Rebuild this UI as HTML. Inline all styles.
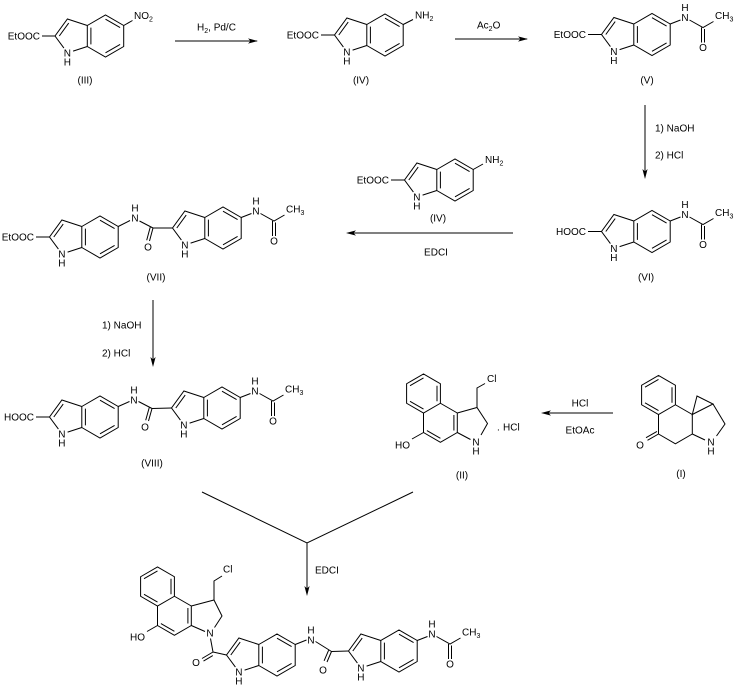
<!DOCTYPE html>
<html><head><meta charset="utf-8">
<style>
html,body{margin:0;padding:0;background:#fff;}
svg{display:block;}
text{font-family:"Liberation Sans",Arial,sans-serif;font-size:10px;fill:#000;}
.m{text-anchor:middle}
.e{text-anchor:end}
</style></head><body>
<svg width="741" height="697" viewBox="0 0 741 697" xmlns="http://www.w3.org/2000/svg">
<defs>
<path id="ind" fill="none" stroke="#000" stroke-width="1" d="M-18.2,-10.5L0,-21L18.2,-10.5L18.2,10.5L0,21L-18.2,10.5Z M-18.2,-10.5L-38.1,-17L-50.5,0L-41.6,12.1 M-18.2,10.5L-32.4,15.1 M-14.6,-8.4L-14.6,8.4 M0,-16.8L14.6,-8.4 M14.6,8.4L0,16.8 M-46.2,0L-36.8,-12.9"/>
<path id="ac" fill="none" stroke="#000" stroke-width="1" d="M18.2,-10.5L28.5,-14.5 M37.5,-14.5L51,-7L61.5,-13 M49.5,-7L49.5,8 M52.5,-5.5L52.5,8"/>
<path id="nap" fill="none" stroke="#000" stroke-width="1" d="M-16.9,-9.75L0,-19.5L16.9,-9.75L16.9,9.75L0,19.5L-16.9,9.75Z M16.9,9.75L33.8,19.5L33.8,39L16.9,48.75L0,39L0,19.5 M-13.5,-7.8L0,-15.6 M13.5,-7.8L13.5,7.8 M-13.5,7.8L0,15.6"/>
<path id="napd" fill="none" stroke="#000" stroke-width="1" d="M30.4,21.45L30.4,37.05 M3.4,37.05L16.9,44.85"/>
<path id="arr" fill="#000" stroke="none" d="M0,0L-10,-2.6L-7.5,0L-10,2.6Z"/>
</defs>

<!-- ===== (III) ===== -->
<g transform="translate(105.5,36)"><use href="#ind"/><text class="m" x="-38.1" y="20.5">N</text><text class="m" x="-38.1" y="29.5">H</text></g>
<text class="e" x="40" y="39.5">EtOOC</text>
<path fill="none" stroke="#000" d="M42,36L55,36 M123.7,25.5L132.5,20.5"/>
<text x="134" y="19">NO<tspan font-size="7" dy="2.5">2</tspan></text>
<text class="m" x="85" y="83.5">(III)</text>

<!-- arrow 1 -->
<path fill="none" stroke="#000" d="M175,41L257,41"/>
<use href="#arr" transform="translate(258,41)"/>
<text x="197" y="30.5">H<tspan font-size="7" dy="2.5">2</tspan><tspan dy="-2.5">, Pd/C</tspan></text>

<!-- ===== (IV) top ===== -->
<g transform="translate(385,35)"><use href="#ind"/><text class="m" x="-38.1" y="20.5">N</text><text class="m" x="-38.1" y="29.5">H</text></g>
<text class="e" x="319" y="38.5">EtOOC</text>
<path fill="none" stroke="#000" d="M321,35L334.5,35 M403.2,24.5L413,19.5"/>
<text x="415" y="18.5">NH<tspan font-size="7" dy="2.5">2</tspan></text>
<text class="m" x="361" y="83.5">(IV)</text>

<!-- arrow 2 -->
<path fill="none" stroke="#000" d="M455,39L527,39"/>
<use href="#arr" transform="translate(528,39)"/>
<text x="477" y="28.5">Ac<tspan font-size="7" dy="2.5">2</tspan><tspan dy="-2.5">O</tspan></text>

<!-- ===== (V) ===== -->
<g transform="translate(652,34.5)"><use href="#ind"/><use href="#ac"/>
<text class="m" x="-38.1" y="20.5">N</text><text class="m" x="-38.1" y="29.5">H</text>
<text class="m" x="33" y="-13.5">N</text><text class="m" x="33" y="-23.5">H</text>
<text x="63" y="-15.5">CH<tspan font-size="7" dy="2.5">3</tspan></text>
<text class="m" x="51" y="16.5">O</text></g>
<text class="e" x="586" y="38">EtOOC</text>
<path fill="none" stroke="#000" d="M588,34.5L601.5,34.5"/>
<text class="m" x="647" y="83.5">(V)</text>

<!-- arrow V -> VI -->
<path fill="none" stroke="#000" d="M645,105L645,177"/>
<use href="#arr" transform="translate(645,179) rotate(90)"/>
<text x="655" y="131.5">1) NaOH</text>
<text x="655" y="158.5">2) HCl</text>

<!-- ===== (IV) mid ===== -->
<g transform="translate(455,180)"><use href="#ind"/><text class="m" x="-38.1" y="20.5">N</text><text class="m" x="-38.1" y="29.5">H</text></g>
<text class="e" x="389" y="183.5">EtOOC</text>
<path fill="none" stroke="#000" d="M391,180L404.5,180 M473.2,169.5L483,164"/>
<text x="485" y="163">NH<tspan font-size="7" dy="2.5">2</tspan></text>
<text class="m" x="438" y="221.5">(IV)</text>

<!-- EDCI arrow mid -->
<path fill="none" stroke="#000" d="M513,233L348,233"/>
<use href="#arr" transform="translate(346,233) rotate(180)"/>
<text class="m" x="436" y="255.5">EDCI</text>

<!-- ===== (VI) ===== -->
<g transform="translate(652,231.5)"><use href="#ind"/><use href="#ac"/>
<text class="m" x="-38.1" y="20.5">N</text><text class="m" x="-38.1" y="29.5">H</text>
<text class="m" x="33" y="-13.5">N</text><text class="m" x="33" y="-23.5">H</text>
<text x="63" y="-15.5">CH<tspan font-size="7" dy="2.5">3</tspan></text>
<text class="m" x="51" y="16.5">O</text></g>
<text class="e" x="586" y="235">HOOC</text>
<path fill="none" stroke="#000" d="M588,231.5L601.5,231.5"/>
<text class="m" x="646" y="280.5">(VI)</text>

<!-- ===== (VII) ===== -->
<g transform="translate(100,237)"><use href="#ind"/><text class="m" x="-38.1" y="20.5">N</text><text class="m" x="-38.1" y="29.5">H</text></g>
<g transform="translate(223,228)"><use href="#ind"/><use href="#ac"/>
<text class="m" x="-38.1" y="20.5">N</text><text class="m" x="-38.1" y="29.5">H</text>
<text class="m" x="33" y="-13.5">N</text><text class="m" x="33" y="-23.5">H</text>
<text x="63" y="-15.5">CH<tspan font-size="7" dy="2.5">3</tspan></text>
<text class="m" x="51" y="16.5">O</text></g>
<text class="e" x="34" y="240.5">EtOOC</text>
<path fill="none" stroke="#000" d="M36,237L49.5,237 M118.2,226.5L130,220.5 M139.5,221L153,228 M153,228L172.5,228 M153,228L149.5,241 M150.2,227.2L146.7,240.2"/>
<text class="m" x="135" y="221.5">N</text><text class="m" x="135" y="211.5">H</text>
<text class="m" x="148" y="250.5">O</text>
<text class="m" x="156" y="280.5">(VII)</text>

<!-- arrow VII -> VIII -->
<path fill="none" stroke="#000" d="M153,300L153,365"/>
<use href="#arr" transform="translate(153,367) rotate(90)"/>
<text x="102" y="328.5">1) NaOH</text>
<text x="102" y="356.5">2) HCl</text>

<!-- ===== (VIII) ===== -->
<g transform="translate(100,417)"><use href="#ind"/><text class="m" x="-38.1" y="20.5">N</text><text class="m" x="-38.1" y="29.5">H</text></g>
<g transform="translate(222,408)"><use href="#ind"/><use href="#ac"/>
<text class="m" x="-38.1" y="20.5">N</text><text class="m" x="-38.1" y="29.5">H</text>
<text class="m" x="33" y="-13.5">N</text><text class="m" x="33" y="-23.5">H</text>
<text x="63" y="-15.5">CH<tspan font-size="7" dy="2.5">3</tspan></text>
<text class="m" x="51" y="16.5">O</text></g>
<text class="e" x="34" y="420.5">HOOC</text>
<path fill="none" stroke="#000" d="M36,417L49.5,417 M118.2,406.5L129.5,401.5 M138.5,401.5L152,408.5 M152,408.5L171.5,408 M152,408.5L148.5,421 M149.2,407.7L145.7,420.2"/>
<text class="m" x="134" y="403.5">N</text><text class="m" x="134" y="393.5">H</text>
<text class="m" x="145" y="430.5">O</text>
<text class="m" x="152" y="466.5">(VIII)</text>

<!-- ===== (II) ===== -->
<g transform="translate(423.5,393.5)"><use href="#nap"/><use href="#napd"/></g>
<path fill="none" stroke="#000" d="M457.3,413L477,407.5L487.5,423.5L481,435 M457.3,432.5L470.5,439.5 M477,407.5L477,388L485,383.5 M423.5,432.5L412,439"/>
<text x="487" y="382">Cl</text>
<text class="m" x="476" y="445.5">N</text><text class="m" x="476" y="454.5">H</text>
<text x="497" y="430.5">.</text><text x="503" y="430.5">HCl</text>
<text class="e" x="410" y="448.5">HO</text>
<text class="m" x="462" y="478.5">(II)</text>

<!-- HCl / EtOAc arrow -->
<path fill="none" stroke="#000" d="M613,413L543,413"/>
<use href="#arr" transform="translate(541,413) rotate(180)"/>
<text class="m" x="580" y="406.5">HCl</text>
<text class="m" x="580" y="433.5">EtOAc</text>

<!-- ===== (I) ===== -->
<g transform="translate(658.5,395)"><use href="#nap"/></g>
<path fill="none" stroke="#000" d="M692.3,414.5L697,396L713,404Z M713,404L725,424L716.5,436 M692.3,434L705,440 M658.5,434L647.5,440.3 M657,431.4L646,437.7"/>
<text class="m" x="711" y="445.5">N</text><text class="m" x="711" y="454.5">H</text>
<text class="m" x="640" y="448.5">O</text>
<text class="m" x="681" y="477">(I)</text>

<!-- converging lines + EDCI arrow -->
<path fill="none" stroke="#000" d="M202,492L307,543L413,492 M307,543L307,594"/>
<use href="#arr" transform="translate(307,596) rotate(90)"/>
<text x="315" y="573.5">EDCI</text>

<!-- ===== Final product ===== -->
<g transform="translate(157.5,586.5)"><use href="#nap"/><use href="#napd"/></g>
<path fill="none" stroke="#000" d="M191.3,606L214,600L222,616L214.5,627.5 M191.3,625.5L205,631.5 M214,600L214,581L222,576 M157.5,625.5L147,631.5 M210.5,638.5L213,652 M213,652L226.5,655 M213,652L202,658.5 M212.8,655.6L203.5,661.1"/>
<text x="223" y="572.5">Cl</text>
<text class="m" x="210" y="636.5">N</text>
<text class="e" x="145" y="640.5">HO</text>
<text class="m" x="196" y="666">O</text>

<g transform="translate(277,655)"><use href="#ind"/><text class="m" x="-38.1" y="20.5">N</text><text class="m" x="-38.1" y="29.5">H</text></g>
<g transform="translate(399,651)"><use href="#ind"/><use href="#ac"/>
<text class="m" x="-38.1" y="20.5">N</text><text class="m" x="-38.1" y="29.5">H</text>
<text class="m" x="33" y="-13.5">N</text><text class="m" x="33" y="-23.5">H</text>
<text x="63" y="-15.5">CH<tspan font-size="7" dy="2.5">3</tspan></text>
<text class="m" x="51" y="16.5">O</text></g>
<path fill="none" stroke="#000" d="M295.2,644.5L306.5,640 M315.5,641.5L331.5,651.5 M331.5,651.5L348.5,651 M331.5,651.5L327,662 M328.6,650.3L324.1,660.8"/>
<text class="m" x="311" y="643.5">N</text><text class="m" x="311" y="633.5">H</text>
<text class="m" x="323" y="673.5">O</text>
</svg>
</body></html>
